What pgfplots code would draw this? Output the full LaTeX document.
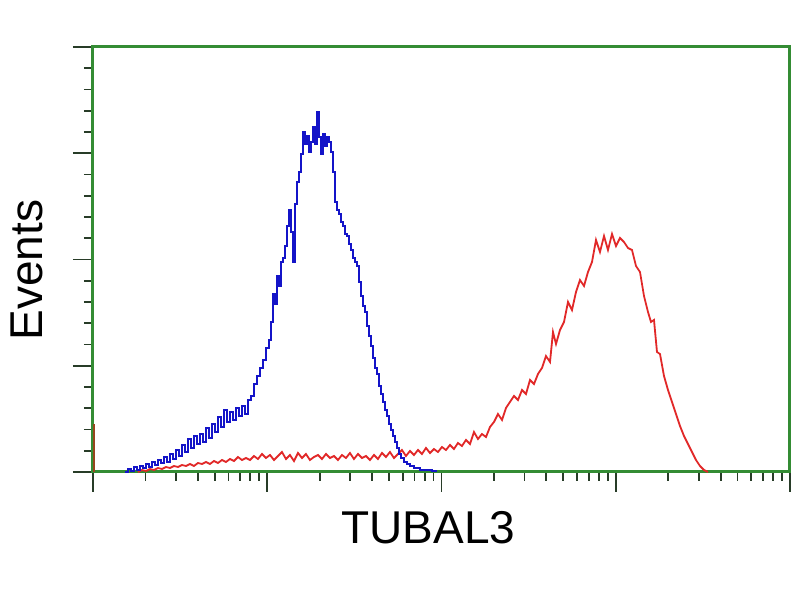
\documentclass[border=0pt]{standalone}
\usepackage{pgfplots}
\pgfplotsset{compat=1.18}
\usepackage{pgfplotstable}
\usepackage{fontspec}
\setmainfont{Liberation Sans}
\definecolor{frameGreen}{RGB}{52,140,52}
\definecolor{tickDark}{RGB}{40,60,40}
\definecolor{histBlue}{RGB}{20,20,200}
\definecolor{histRed}{RGB}{225,40,40}
\definecolor{spikeBrown}{RGB}{150,70,30}

% blue histogram: p = channel position, c = events
\pgfplotstableread{
p c
125 0
128 3
131 1
134 5
137 2
140 6
143 4
146 8
149 5
152 10
155 7
158 12
161 9
164 15
167 10
170 18
173 13
176 22
179 16
182 27
185 20
188 33
191 24
194 36
197 28
200 38
203 30
206 44
209 34
212 48
215 40
218 55
221 45
224 62
227 50
230 60
233 52
236 64
239 56
242 66
245 58
248 72
251 76
254 88
257 96
260 104
263 112
266 124
269 132
271 150
273 178
275 168
277 196
279 186
281 210
283 214
285 226
287 246
289 262
291 240
293 210
295 268
297 290
299 300
301 318
303 340
305 328
307 336
309 320
311 330
313 345
315 328
317 360
319 335
321 318
323 338
325 326
327 335
329 330
331 320
333 300
335 270
337 262
339 258
341 250
343 246
345 238
347 236
349 228
351 222
353 214
355 210
357 206
359 190
361 176
363 166
365 160
367 146
369 136
371 126
373 114
375 104
377 98
379 86
381 78
383 70
385 62
387 56
389 48
391 42
393 36
395 30
397 24
399 18
401 14
404 10
407 8
410 6
414 4
420 2
428 2
432 1
436 0
}\bluedata

\pgfplotstableread{
p c
138 0
142 2
146 1
150 3
154 2
158 4
162 3
166 5
170 4
174 6
178 5
182 7
186 6
190 8
194 6
198 9
202 8
206 10
210 8
214 11
218 9
222 12
226 10
230 13
234 11
238 15
242 12
246 14
250 12
254 16
258 13
262 18
266 14
270 17
274 12
278 16
282 20
286 13
290 17
294 11
298 19
302 14
306 18
310 12
314 15
318 17
322 13
326 18
330 14
334 16
338 12
342 17
346 14
350 19
354 13
358 18
362 14
366 16
370 12
374 17
378 13
382 19
386 15
390 20
394 14
398 18
402 22
406 16
410 21
414 17
418 22
422 18
426 24
430 19
434 23
438 20
442 25
446 22
450 27
454 23
458 29
462 26
466 32
470 28
474 40
478 33
482 38
486 35
490 45
494 50
498 58
502 52
506 64
510 70
514 76
518 72
522 82
526 78
530 92
534 88
538 98
542 104
546 116
550 110
553 140
556 128
560 142
564 150
568 170
572 162
576 180
580 192
584 186
588 200
592 210
596 232
600 220
604 236
608 222
612 238
616 226
620 234
624 230
628 224
632 222
636 206
640 200
644 176
648 160
651 150
654 152
657 120
660 118
664 96
668 82
672 70
676 58
680 46
684 36
688 28
692 20
696 12
700 6
704 2
708 0
}\reddata

\begin{document}
\begin{tikzpicture}
\useasboundingbox (-46.5pt,-64pt) rectangle (353.5pt,236pt);
\begin{axis}[
  at={(0pt,0pt)}, anchor=south west,
  scale only axis,
  width=348.5pt, height=212.5pt,
  xmin=93, xmax=790, ymin=0, ymax=425,
  axis line style={draw=frameGreen, line width=1.5pt},
  tick pos=left,
  tick align=outside,
  xtick={93,267.25,441.5,615.75,790},
  minor xtick={145.5,176.1,197.9,214.8,228.6,240.3,250.4,259.3,
               319.7,350.4,372.2,389.1,402.9,414.6,424.7,433.6,
               494.0,524.6,546.4,563.3,577.1,588.8,598.9,607.8,
               668.2,698.9,720.7,737.6,751.4,763.1,773.2,782.1},
  ytick={0,106.25,212.5,318.75,425},
  minor ytick={21.25,42.5,63.75,85,127.5,148.75,170,191.25,233.75,255,276.25,297.5,340,361.25,382.5,403.75},
  xticklabels={}, yticklabels={},
  major tick length=10pt, minor tick length=4.5pt,
  every tick/.style={draw=tickDark, line width=0.9pt},
  xlabel={TUBAL3}, ylabel={Events},
  label style={font=\fontsize{23}{27}\selectfont},
  xlabel style={at={(axis description cs:0.481,-0.132)}, anchor=center},
  ylabel style={at={(axis description cs:-0.0947,0.475)}, anchor=center, rotate=0},
  clip=false,
]
\addplot[color=spikeBrown, line width=1pt] coordinates {(94,0) (94,48)};
\addplot[color=histRed, line width=0.9pt, sharp plot] table[x=p, y=c] {\reddata};
\addplot[color=histBlue, line width=1pt, const plot] table[x=p, y=c] {\bluedata};
\end{axis}
\end{tikzpicture}
\end{document}
